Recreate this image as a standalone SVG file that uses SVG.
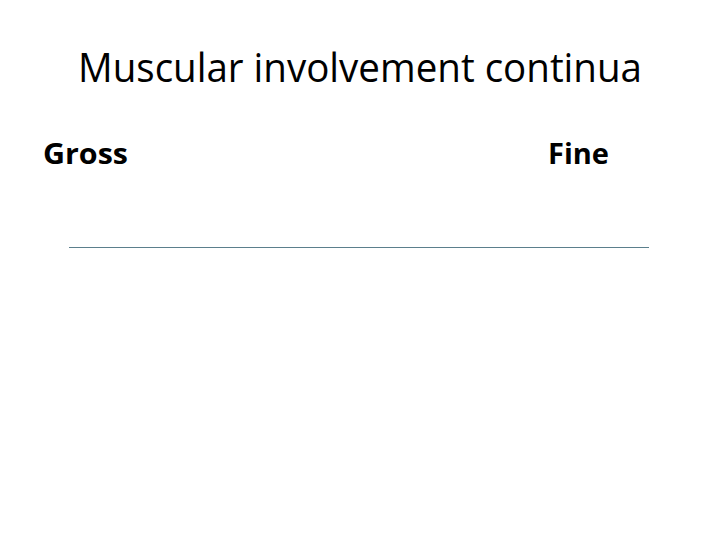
<svg xmlns="http://www.w3.org/2000/svg" width="720" height="540" viewBox="0 0 720 540">
<style>
.t{font-family:"Open Sans","Liberation Sans",sans-serif;fill:#000}
.title{font-size:40px}
.lbl{font-size:28px;font-weight:bold}
</style>
<rect width="720" height="540" fill="#fff"/>
<text class="t title" x="78" y="82" textLength="564" lengthAdjust="spacingAndGlyphs">Muscular involvement continua</text>
<g id="gross"><text class="t lbl" x="43" y="164" textLength="85" lengthAdjust="spacingAndGlyphs">Gross</text></g>
<g id="fine"><text class="t lbl" x="548" y="164" textLength="61" lengthAdjust="spacingAndGlyphs">Fine</text></g>
<g id="connectors"><line x1="69" y1="247.5" x2="649" y2="247.5" stroke="#5B7F8C" stroke-width="1.2"/></g>
</svg>
